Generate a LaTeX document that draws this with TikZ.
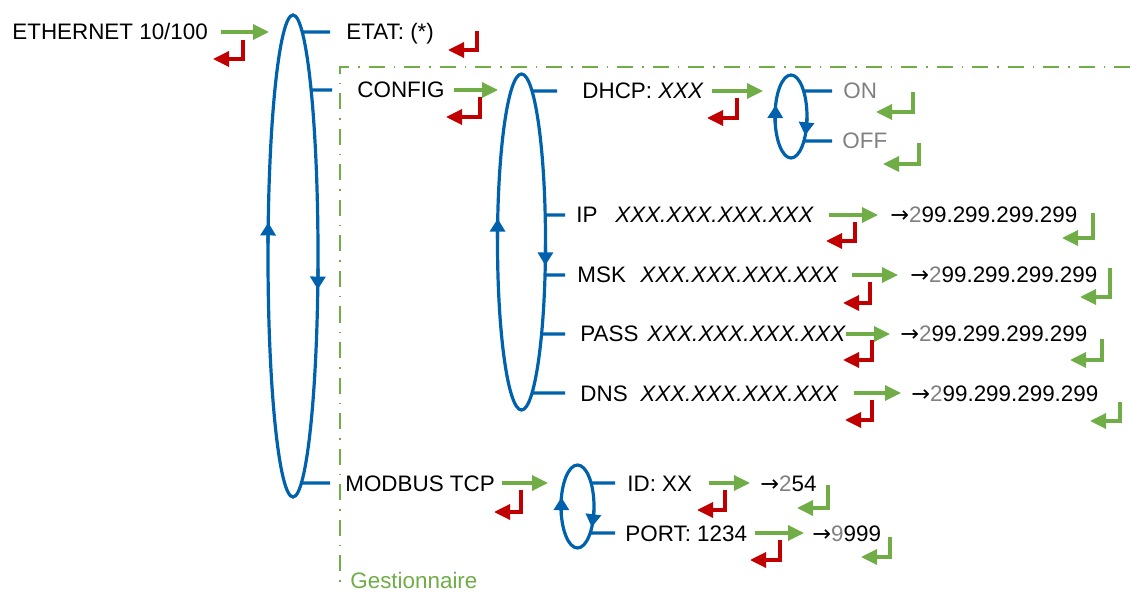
\documentclass[tikz,border=0pt]{standalone}
\usepackage{fontspec}
\setmainfont{Liberation Sans}
\newfontfamily\symbfont{DejaVu Sans}
\usetikzlibrary{arrows.meta}
\definecolor{bleu}{RGB}{0,98,172}
\definecolor{vert}{RGB}{112,173,71}
\definecolor{rouge}{RGB}{192,0,0}
\definecolor{gris}{RGB}{128,128,128}
\newcommand{\fl}{{\symbfont →}}
\tikzset{
    txt/.style={anchor=west, inner sep=0pt, text height=8pt, text depth=0pt, font=\fontsize{11.2}{13}\selectfont},
    val/.style={txt, font=\fontsize{11.2}{13}\selectfont\itshape},
    boucle/.style={draw=bleu, line width=1.6pt},
    tourne/.style={bleu, line width=1.6pt, -{Triangle[length=6.5pt,width=7.5pt]}},
    suite/.style={vert, line width=1.7pt, -{Triangle[length=8pt,width=7.5pt]}},
    retour/.style={rouge, line width=1.7pt, -{Triangle[length=8pt,width=7.5pt]}},
    valide/.style={vert, line width=1.7pt, -{Triangle[length=8pt,width=7.5pt]}},
    cadre/.style={vert, line width=0.75pt, dash pattern=on 8pt off 4.5pt on 0.75pt off 4.5pt}
}
\begin{document}
\begin{tikzpicture}[x=0.5pt, y=-0.5pt]
    \useasboundingbox (0,0) rectangle (1130,593);

    % Cadre gestionnaire
    \draw[cadre] (1130,67) -- (340,67) -- (340,585);
    \node[txt, text=vert] (gest) at (350,580) {Gestionnaire};

    % Textes
    \node[txt] (eth) at (12,32) {ETHERNET 10/100};
    \node[txt] (etat) at (346,32) {ETAT: (*)};
    \node[txt] (config) at (357,90) {CONFIG};
    \node[txt] (modbus) at (345,483) {MODBUS TCP};
    \node[txt] (dhcp) at (582,91) {DHCP: \textit{XXX}};
    \node[txt, text=gris] (on) at (843,91) {ON};
    \node[txt, text=gris] (off) at (842,141) {OFF};
    \node[txt] (ip) at (576,215) {IP};
    \node[val] (ipx) at (615,215) {XXX.XXX.XXX.XXX};
    \node[txt] (ipv) at (890,215) {\fl{\color{gris}2}99.299.299.299};
    \node[txt] (msk) at (577,275) {MSK};
    \node[val] (mskx) at (640,275) {XXX.XXX.XXX.XXX};
    \node[txt] (mskv) at (910,275) {\fl{\color{gris}2}99.299.299.299};
    \node[txt] (pass) at (580,334) {PASS};
    \node[val] (passx) at (647,334) {XXX.XXX.XXX.XXX};
    \node[txt] (passv) at (900,334) {\fl{\color{gris}2}99.299.299.299};
    \node[txt] (dns) at (580,393) {DNS};
    \node[val] (dnsx) at (640,393) {XXX.XXX.XXX.XXX};
    \node[txt] (dnsv) at (911,393) {\fl{\color{gris}2}99.299.299.299};
    \node[txt] (id) at (627,483) {ID: XX};
    \node[txt] (idv) at (760,483) {\fl{\color{gris}2}54};
    \node[txt] (port) at (625,533) {PORT: 1234};
    \node[txt] (portv) at (812,533) {\fl{\color{gris}9}999};

    % Boucles
    \coordinate (e1) at (293,256);
    \coordinate (e2) at (521.5,242);
    \coordinate (e3) at (791,116.5);
    \coordinate (e4) at (577.5,506.5);
    \draw[boucle] (e1) ellipse [x radius=25, y radius=241];
    \draw[boucle] (e2) ellipse [x radius=24, y radius=168];
    \draw[boucle] (e3) ellipse [x radius=16, y radius=41.5];
    \draw[boucle] (e4) ellipse [x radius=16.5, y radius=41.5];
    \draw[tourne] ([shift={(183:25 and 241)}]e1) -- ([shift={(188:25 and 241)}]e1);
    \draw[tourne] ([shift={(3:25 and 241)}]e1) -- ([shift={(8:25 and 241)}]e1);
    \draw[tourne] ([shift={(181:24 and 168)}]e2) -- ([shift={(188:24 and 168)}]e2);
    \draw[tourne] ([shift={(1:24 and 168)}]e2) -- ([shift={(8:24 and 168)}]e2);
    \draw[tourne] ([shift={(171:16 and 41.5)}]e3) -- ([shift={(196:16 and 41.5)}]e3);
    \draw[tourne] ([shift={(2:16 and 41.5)}]e3) -- ([shift={(27:16 and 41.5)}]e3);
    \draw[tourne] ([shift={(168:16.5 and 41.5)}]e4) -- ([shift={(193:16.5 and 41.5)}]e4);
    \draw[tourne] ([shift={(5:16.5 and 41.5)}]e4) -- ([shift={(30:16.5 and 41.5)}]e4);

    % Branches
    \draw[boucle] ([shift={({asin(-224/241)}:25 and 241)}]e1) -- ([xshift=-8pt]etat.west);
    \draw[boucle] ([shift={({asin(-166/241)}:25 and 241)}]e1) -- ([xshift=-12.5pt]config.west);
    \draw[boucle] ([shift={({asin(227/241)}:25 and 241)}]e1) -- ([xshift=-7.5pt]modbus.west);
    \draw[boucle] ([shift={({asin(-151/168)}:24 and 168)}]e2) -- ([xshift=-12.5pt]dhcp.west);
    \draw[boucle] ([shift={({asin(-27/168)}:24 and 168)}]e2) -- ([xshift=-5.5pt]ip.west);
    \draw[boucle] ([shift={({asin(33/168)}:24 and 168)}]e2) -- ([xshift=-6pt]msk.west);
    \draw[boucle] ([shift={({asin(92/168)}:24 and 168)}]e2) -- ([xshift=-7.5pt]pass.west);
    \draw[boucle] ([shift={({asin(151/168)}:24 and 168)}]e2) -- ([xshift=-7.5pt]dns.west);
    \draw[boucle] ([shift={({asin(-25.5/41.5)}:16 and 41.5)}]e3) -- ([xshift=-5.5pt]on.west);
    \draw[boucle] ([shift={({asin(24.5/41.5)}:16 and 41.5)}]e3) -- ([xshift=-5pt]off.west);
    \draw[boucle] ([shift={({asin(-23.5/41.5)}:16.5 and 41.5)}]e4) -- ([xshift=-6pt]id.west);
    \draw[boucle] ([shift={({asin(26.5/41.5)}:16.5 and 41.5)}]e4) -- ([xshift=-5pt]port.west);

    % Fleches suivant
    \coordinate (in1) at (269,32);
    \coordinate (in2) at (498,90);
    \coordinate (in3) at (763,91);
    \coordinate (in4) at (548,483);
    \draw[suite] ([xshift=6.5pt]eth.east) -- (in1);
    \draw[suite] ([xshift=4.5pt]config.east) -- (in2);
    \draw[suite] ([xshift=4pt]dhcp.east) -- (in3);
    \draw[suite] ([xshift=3.5pt]modbus.east) -- (in4);
    \draw[suite] ([xshift=7.5pt]ipx.east) -- ([xshift=-6pt]ipv.west);
    \draw[suite] ([xshift=6.5pt]mskx.east) -- ([xshift=-6pt]mskv.west);
    \draw[suite] ([xshift=0pt]passx.east) -- ([xshift=-5pt]passv.west);
    \draw[suite] ([xshift=7.5pt]dnsx.east) -- ([xshift=-5pt]dnsv.west);
    \draw[suite] ([xshift=8pt]id.east) -- ([xshift=-5pt]idv.west);
    \draw[suite] ([xshift=4pt]port.east) -- ([xshift=-4pt]portv.west);

    % Retours
    \draw[retour] (243,40) |- (213,59);
    \draw[retour] (477,31) |- (448,50);
    \draw[retour] (480,97) |- (446,117);
    \draw[retour] (737,98) |- (707,118);
    \draw[retour] (855,222) |- (826,241);
    \draw[retour] (870,282) |- (843,303);
    \draw[retour] (872,340) |- (843,360);
    \draw[retour] (872,400) |- (845,420);
    \draw[retour] (521,490) |- (494,512);
    \draw[retour] (725,490) |- (697,510);
    \draw[retour] (780,540) |- (750,560);

    % Validations
    \draw[valide] (913,92) |- (876,112);
    \draw[valide] (919,143) |- (883,164);
    \draw[valide] (1093,213) |- (1062,238);
    \draw[valide] (1110,268) |- (1080,297);
    \draw[valide] (1102,339) |- (1070,360);
    \draw[valide] (1120,402) |- (1090,421);
    \draw[valide] (828,485) |- (797,508);
    \draw[valide] (890,537) |- (861,557);
\end{tikzpicture}
\end{document}
